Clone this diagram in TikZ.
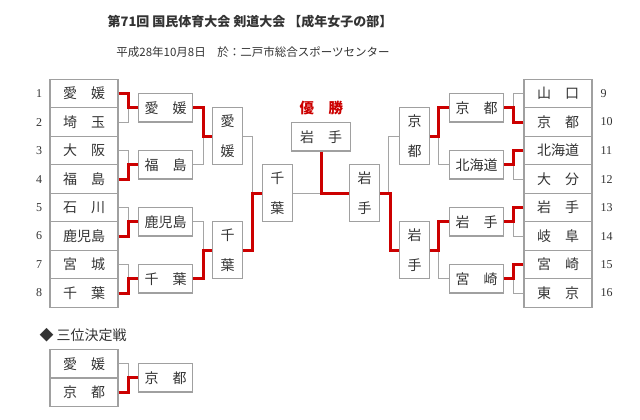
\documentclass[tikz,border=0pt]{standalone}
\usepackage{fontspec}
\setmainfont{Liberation Serif}
\newfontfamily\jp{Noto Sans CJK JP}
\definecolor{winred}{RGB}{204,0,0}
\definecolor{boxgray}{RGB}{160,160,160}
\definecolor{linegray}{RGB}{165,165,165}
\definecolor{textgray}{RGB}{51,51,51}
\tikzset{
  box/.style={draw=boxgray, line width=1.2pt, inner sep=0pt, text=textgray, font=\jp\fontsize{14pt}{14pt}\selectfont},
  team/.style={box, minimum width=68pt, minimum height=28.5pt},
  win/.style={box, minimum width=54.4pt, minimum height=28.5pt},
  vbox/.style={box, minimum width=30pt, minimum height=57pt, align=center, font=\jp\fontsize{14pt}{30pt}\selectfont},
  num/.style={text=textgray, font=\fontsize{12pt}{12pt}\selectfont},
  lose/.style={draw=linegray, line width=1pt},
  won/.style={draw=winred, line width=3pt},
}
\begin{document}
\begin{tikzpicture}[x=1pt, y=-1pt]
  \useasboundingbox (0,0) rectangle (640,420);
  % headings
  \node (title) at (250,22) [text=textgray, font=\jp\bfseries\fontsize{13pt}{13pt}\selectfont] {第71回 国民体育大会 剣道大会 【成年女子の部】};
  \node (date) at (253,52) [text=textgray, font=\jp\fontsize{11.5pt}{11.5pt}\selectfont] {平成28年10月8日　於：二戸市総合スポーツセンター};
  \node (champ) at (321.3,108.3) [text=winred, font=\jp\bfseries\fontsize{14.5pt}{14.5pt}\selectfont] {優　勝};
  % left teams
  \node[team] (t1) at (84,93.55) {愛　媛};
  \node[team] (t2) at (84,122.05) {埼　玉};
  \node[team] (t3) at (84,150.55) {大　阪};
  \node[team] (t4) at (84,179.05) {福　島};
  \node[team] (t5) at (84,207.55) {石　川};
  \node[team] (t6) at (84,236.05) {鹿児島};
  \node[team] (t7) at (84,264.55) {宮　城};
  \node[team] (t8) at (84,293.05) {千　葉};
  \node[num] (n1) at (39,93.55) {1};
  \node[num] (n2) at (39,122.05) {2};
  \node[num] (n3) at (39,150.55) {3};
  \node[num] (n4) at (39,179.05) {4};
  \node[num] (n5) at (39,207.55) {5};
  \node[num] (n6) at (39,236.05) {6};
  \node[num] (n7) at (39,264.55) {7};
  \node[num] (n8) at (39,293.05) {8};
  % right teams
  \node[team] (t9) at (558,93.55) {山　口};
  \node[team] (t10) at (558,122.05) {京　都};
  \node[team] (t11) at (558,150.55) {北海道};
  \node[team] (t12) at (558,179.05) {大　分};
  \node[team] (t13) at (558,207.55) {岩　手};
  \node[team] (t14) at (558,236.05) {岐　阜};
  \node[team] (t15) at (558,264.55) {宮　崎};
  \node[team] (t16) at (558,293.05) {東　京};
  \node[num, anchor=west] (n9) at (597,93.55) {9};
  \node[num, anchor=west] (n10) at (597,122.05) {10};
  \node[num, anchor=west] (n11) at (597,150.55) {11};
  \node[num, anchor=west] (n12) at (597,179.05) {12};
  \node[num, anchor=west] (n13) at (597,207.55) {13};
  \node[num, anchor=west] (n14) at (597,236.05) {14};
  \node[num, anchor=west] (n15) at (597,264.55) {15};
  \node[num, anchor=west] (n16) at (597,293.05) {16};
  % first round winners
  \node[win] (a1) at (165.5,107.8) {愛　媛};
  \node[win] (a2) at (165.5,164.8) {福　島};
  \node[win] (a3) at (165.5,221.8) {鹿児島};
  \node[win] (a4) at (165.5,278.8) {千　葉};
  \node[win] (a5) at (476.5,107.8) {京　都};
  \node[win] (a6) at (476.5,164.8) {北海道};
  \node[win] (a7) at (476.5,221.8) {岩　手};
  \node[win] (a8) at (476.5,278.8) {宮　崎};
  % second round, semi final, final
  \node[vbox] (b1) at (227.5,136.3) {愛\\媛};
  \node[vbox] (b2) at (227.5,250.3) {千\\葉};
  \node[vbox] (b3) at (414.5,136.3) {京\\都};
  \node[vbox] (b4) at (414.5,250.3) {岩\\手};
  \node[vbox] (s1) at (277.3,193.3) {千\\葉};
  \node[vbox] (s2) at (364.7,193.3) {岩\\手};
  \node[box, minimum width=58.5pt, minimum height=28.5pt] (f) at (321,136.7) {岩　手};
  % third place
  \node (third) at (36,335) [anchor=west, text=textgray, font=\jp\fontsize{14pt}{14pt}\selectfont] {◆\hspace{3pt}三位決定戦};
  \node[team] (u1) at (84,363.8) {愛　媛};
  \node[team] (u2) at (84,392.3) {京　都};
  \node[win] (u3) at (165.5,377.8) {京　都};
  % losing lines
  \draw[lose] (t2.east) -- ++(9.5,0) |- (a1.west);
  \draw[lose] (t3.east) -- ++(9.5,0) |- (a2.west);
  \draw[lose] (t5.east) -- ++(9.5,0) |- (a3.west);
  \draw[lose] (t7.east) -- ++(9.5,0) |- (a4.west);
  \draw[lose] (a2.east) -- ++(10,0) |- (b1.west);
  \draw[lose] (a3.east) -- ++(10,0) |- (b2.west);
  \draw[lose] (b1.east) -- ++(9.5,0) |- (s1.west);
  \draw[lose] (s1.east) -- (s1.east -| f.south);
  \draw[lose] (t9.west) -- ++(-10,0) |- (a5.east);
  \draw[lose] (t12.west) -- ++(-10,0) |- (a6.east);
  \draw[lose] (t14.west) -- ++(-10,0) |- (a7.east);
  \draw[lose] (t16.west) -- ++(-10,0) |- (a8.east);
  \draw[lose] (a6.west) -- ++(-10,0) |- (b3.east);
  \draw[lose] (a8.west) -- ++(-10,0) |- (b4.east);
  \draw[lose] (b3.west) -- ++(-10,0) |- (s2.east);
  \draw[lose] (u1.east) -- ++(9.5,0) |- (u3.west);
  % winning lines
  \draw[won] (t1.east) -- ++(9.5,0) |- (a1.west);
  \draw[won] (t4.east) -- ++(9.5,0) |- (a2.west);
  \draw[won] (t6.east) -- ++(9.5,0) |- (a3.west);
  \draw[won] (t8.east) -- ++(9.5,0) |- (a4.west);
  \draw[won] (a1.east) -- ++(10,0) |- (b1.west);
  \draw[won] (a4.east) -- ++(10,0) |- (b2.west);
  \draw[won] (b2.east) -- ++(9.5,0) |- (s1.west);
  \draw[won] (f.south) |- (s2.west);
  \draw[won] (t10.west) -- ++(-10,0) |- (a5.east);
  \draw[won] (t11.west) -- ++(-10,0) |- (a6.east);
  \draw[won] (t13.west) -- ++(-10,0) |- (a7.east);
  \draw[won] (t15.west) -- ++(-10,0) |- (a8.east);
  \draw[won] (a5.west) -- ++(-10,0) |- (b3.east);
  \draw[won] (a7.west) -- ++(-10,0) |- (b4.east);
  \draw[won] (s2.east) -- ++(10,0) |- (b4.west);
  \draw[won] (u2.east) -- ++(9.5,0) |- (u3.west);
\end{tikzpicture}
\end{document}
